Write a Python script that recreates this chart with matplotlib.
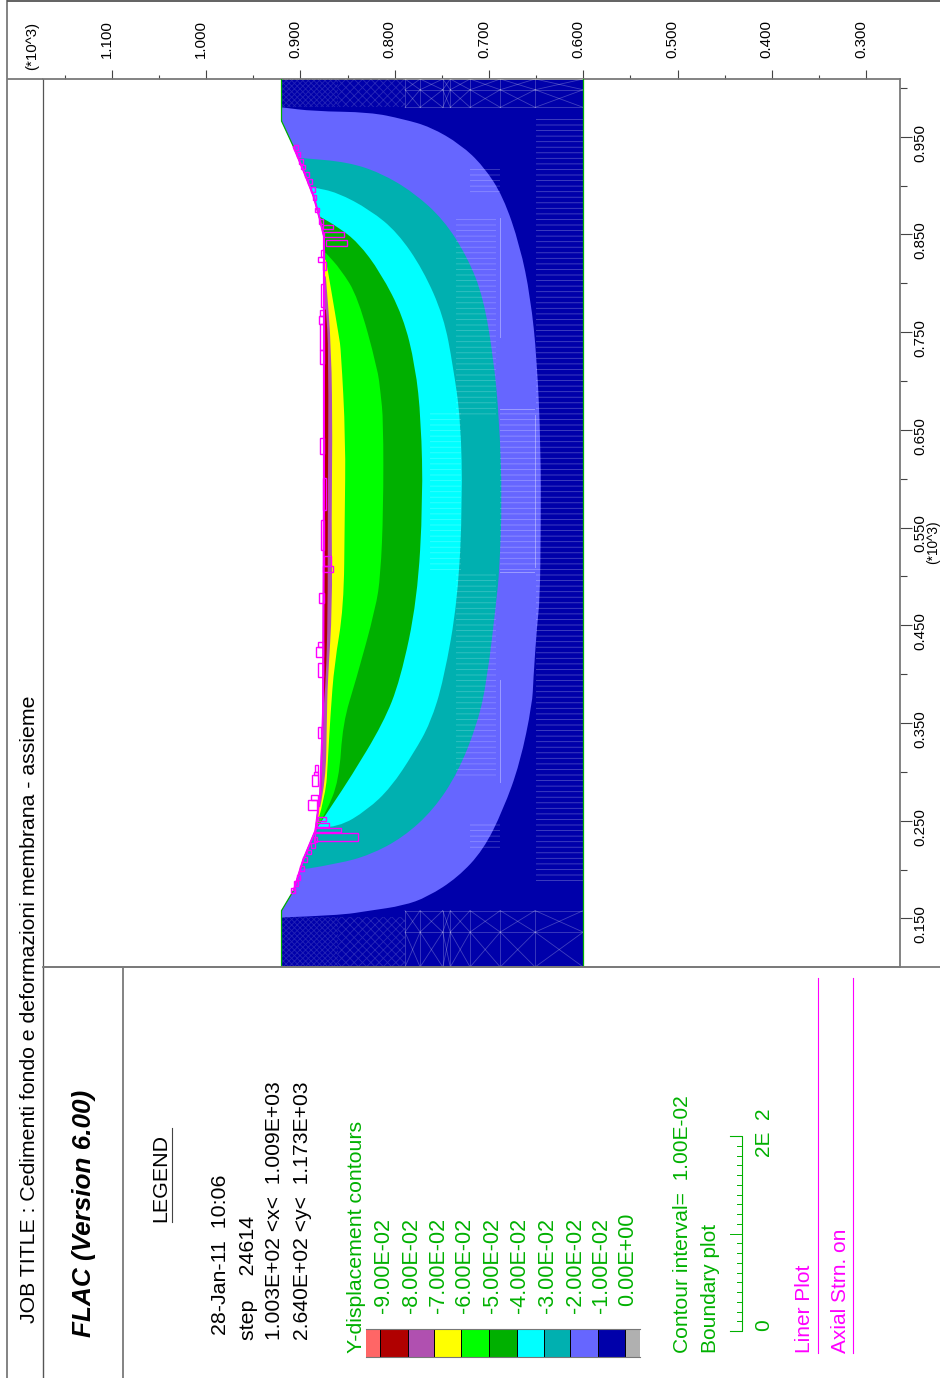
import matplotlib
matplotlib.use("Agg")
import matplotlib.pyplot as plt
from matplotlib.patches import PathPatch, Polygon, Rectangle
from matplotlib.path import Path
from matplotlib.transforms import Affine2D

plt.rcParams["font.family"] = ["Liberation Sans", "DejaVu Sans"]
plt.rcParams["hatch.linewidth"] = 0.6

W, H = 940, 1378

# model outline, x is along the page height, y along the page width (*10^3)
SURF_X = [0.1003, 0.158, 0.179, 0.210, 0.240, 0.278, 0.360, 0.578, 0.745, 0.814, 0.848, 0.868, 0.889, 0.916, 0.939, 0.966, 1.009]
SURF_Y = [0.920, 0.920, 0.907, 0.897, 0.884, 0.879, 0.876, 0.875, 0.875, 0.875, 0.875, 0.880, 0.886, 0.897, 0.907, 0.920, 0.920]
BASE_Y = 0.600

C1_X = [0.151, 0.153, 0.158, 0.163, 0.172, 0.192, 0.220, 0.261, 0.309, 0.370, 0.394, 0.450, 0.476, 0.548, 0.630, 0.722, 0.786, 0.838, 0.889, 0.920, 0.942, 0.960, 0.968, 0.975, 0.976, 0.980]
C1_Y = [0.920, 0.860, 0.826, 0.791, 0.765, 0.733, 0.706, 0.685, 0.667, 0.654, 0.653, 0.649, 0.646, 0.645, 0.645, 0.649, 0.656, 0.667, 0.685, 0.706, 0.730, 0.762, 0.791, 0.826, 0.886, 0.920]
C2_X = [0.201, 0.206, 0.215, 0.233, 0.261, 0.299, 0.350, 0.394, 0.476, 0.505, 0.578, 0.660, 0.722, 0.786, 0.827, 0.865, 0.893, 0.913, 0.924, 0.928]
C2_Y = [0.892, 0.860, 0.826, 0.791, 0.759, 0.733, 0.712, 0.702, 0.692, 0.689, 0.686, 0.689, 0.695, 0.706, 0.723, 0.748, 0.780, 0.815, 0.850, 0.897]
C3_X = [0.243, 0.243, 0.261, 0.284, 0.319, 0.350, 0.394, 0.476, 0.578, 0.660, 0.715, 0.766, 0.814, 0.852, 0.875, 0.893, 0.898]
C3_Y = [0.879, 0.860, 0.829, 0.804, 0.780, 0.762, 0.748, 0.733, 0.728, 0.730, 0.738, 0.748, 0.770, 0.797, 0.826, 0.861, 0.886]
C4_X = [0.243, 0.268, 0.294, 0.350, 0.394, 0.476, 0.578, 0.660, 0.715, 0.766, 0.811, 0.842, 0.858, 0.868]
C4_Y = [0.882, 0.865, 0.847, 0.812, 0.794, 0.776, 0.770, 0.772, 0.778, 0.791, 0.815, 0.839, 0.861, 0.879]
C5_X = [0.243, 0.258, 0.291, 0.350, 0.394, 0.468, 0.501, 0.568, 0.660, 0.688, 0.712, 0.786, 0.814, 0.831]
C5_Y = [0.882, 0.873, 0.859, 0.855, 0.841, 0.820, 0.815, 0.812, 0.812, 0.815, 0.818, 0.839, 0.857, 0.873]
C6_X = [0.247, 0.278, 0.309, 0.360, 0.410, 0.468, 0.558, 0.640, 0.732, 0.745, 0.797, 0.824]
C6_Y = [0.882, 0.873, 0.871, 0.868, 0.864, 0.854, 0.853, 0.852, 0.857, 0.859, 0.868, 0.873]
C7_X = [0.264, 0.291, 0.350, 0.394, 0.468, 0.558, 0.640, 0.732, 0.807]
C7_Y = [0.879, 0.873, 0.872, 0.871, 0.866, 0.867, 0.866, 0.867, 0.873]
C8_X = [0.281, 0.360, 0.394, 0.458, 0.558, 0.732, 0.773]
C8_Y = [0.878, 0.876, 0.873, 0.871, 0.871, 0.870, 0.873]

CONTOURS = [(C1_X, C1_Y), (C2_X, C2_Y), (C3_X, C3_Y), (C4_X, C4_Y), (C5_X, C5_Y), (C6_X, C6_Y), (C7_X, C7_Y), (C8_X, C8_Y)]
FILL_COLORS = ["#6666ff", "#00b0b0", "#00ffff", "#00b000", "#00ff00", "#ffff00", "#b050b0", "#b00000"]
BASE_COLOR = "#0000aa"

# liner bars: x low, x high, y low, y high
LINER_BARS = [
    (0.838, 0.844, 0.851, 0.873), (0.847, 0.852, 0.854, 0.875), (0.855, 0.860, 0.865, 0.876),
    (0.229, 0.237, 0.839, 0.884), (0.238, 0.243, 0.857, 0.884), (0.244, 0.248, 0.870, 0.882),
    (0.250, 0.254, 0.873, 0.881), (0.261, 0.271, 0.882, 0.892), (0.271, 0.276, 0.881, 0.889),
    (0.286, 0.297, 0.881, 0.888), (0.297, 0.300, 0.881, 0.886), (0.300, 0.307, 0.881, 0.885),
    (0.335, 0.346, 0.878, 0.881), (0.418, 0.428, 0.876, 0.883), (0.428, 0.433, 0.876, 0.881),
    (0.397, 0.411, 0.876, 0.881), (0.473, 0.483, 0.875, 0.880), (0.505, 0.511, 0.865, 0.876),
    (0.511, 0.521, 0.868, 0.875), (0.568, 0.601, 0.873, 0.876), (0.717, 0.732, 0.875, 0.879),
    (0.625, 0.642, 0.875, 0.879), (0.527, 0.558, 0.875, 0.878), (0.822, 0.827, 0.875, 0.881),
    (0.827, 0.834, 0.875, 0.878), (0.814, 0.822, 0.873, 0.876), (0.776, 0.799, 0.875, 0.878),
    (0.766, 0.773, 0.875, 0.879), (0.758, 0.766, 0.875, 0.880), (0.732, 0.758, 0.875, 0.879),
]
SLOPE_BOX_X = [0.939, 0.932, 0.925, 0.919, 0.911, 0.904, 0.896, 0.888, 0.875, 0.863, 0.179, 0.186, 0.192, 0.201, 0.210, 0.218, 0.225, 0.231]
SLOPE_BOX_Y = [0.905, 0.902, 0.899, 0.897, 0.893, 0.890, 0.887, 0.885, 0.882, 0.878, 0.908, 0.905, 0.902, 0.898, 0.895, 0.891, 0.887, 0.884]
LINER_X = [0.179, 0.210, 0.240, 0.278, 0.360, 0.578, 0.745, 0.814, 0.848, 0.868, 0.889, 0.916, 0.939]
LINER_Y = [0.907, 0.897, 0.884, 0.879, 0.876, 0.875, 0.875, 0.875, 0.875, 0.880, 0.886, 0.897, 0.907]

# grid zones at both ends of the model
MESH_COLS = [0.600, 0.651, 0.688, 0.720, 0.741, 0.749, 0.773, 0.789]
MESH_ROWS_LOW = [0.1003, 0.136, 0.158]
MESH_ROWS_HIGH = [0.980, 0.998, 1.009]
# dense grid patches: x low, x high, y low, y high, hatch, alpha
GRID_PATCHES = [
    (0.1003, 0.151, 0.860, 0.920, "xxxxxx", 0.14), (0.1003, 0.151, 0.789, 0.860, "xxxx", 0.16),
    (0.980, 1.009, 0.860, 0.920, "xxxxxx", 0.14), (0.980, 1.009, 0.789, 0.860, "xxxx", 0.16),
    (0.186, 0.970, 0.600, 0.650, "---", 0.28), (0.505, 0.671, 0.650, 0.688, "---", 0.28),
    (0.665, 0.870, 0.692, 0.735, "---", 0.22), (0.292, 0.505, 0.692, 0.735, "---", 0.22),
    (0.507, 0.671, 0.730, 0.762, "---", 0.22), (0.891, 0.921, 0.688, 0.720, "---", 0.25),
    (0.220, 0.250, 0.688, 0.720, "---", 0.25),
]
# lone pale mesh lines
MESH_LINES = [
    (0.745, 0.867, 0.688, 0.688), (0.290, 0.394, 0.688, 0.688), (0.671, 0.671, 0.688, 0.652),
    (0.505, 0.505, 0.688, 0.652), (0.510, 0.665, 0.651, 0.651),
]

X_MAJOR = [0.15, 0.25, 0.35, 0.45, 0.55, 0.65, 0.75, 0.85, 0.95]
X_MINOR = [0.20, 0.30, 0.40, 0.50, 0.60, 0.70, 0.80, 0.90, 1.00]
Y_MAJOR = [1.1, 1.0, 0.9, 0.8, 0.7, 0.6, 0.5, 0.4, 0.3]
Y_MINOR = [1.15, 1.05, 0.95, 0.85, 0.75, 0.65, 0.55, 0.45, 0.35]

LEVELS = ["-9.00E-02", "-8.00E-02", "-7.00E-02", "-6.00E-02", "-5.00E-02", "-4.00E-02", "-3.00E-02", "-2.00E-02", "-1.00E-02", "0.00E+00"]
LEVEL_LABEL_POS = [382, 409.5, 436.5, 462.5, 490.5, 518, 545.5, 573, 599, 626]
CELL_EDGES = [366, 380, 408, 434, 461, 489, 517, 544, 570, 598, 625, 640]
CELL_COLORS = ["#ff6666", "#b00000", "#b050b0", "#ffff00", "#00ff00", "#00b000", "#00ffff", "#00b0b0", "#6666ff", "#0000aa", "#b0b0b0"]

GREEN = "#00b000"
MAGENTA = "#ff00ff"
FRAME = "#7a7a7a"

fig = plt.figure(figsize=(W / 100, H / 100), dpi=100)

# page overlay in pixel coordinates for the frame and the legend panel
page = fig.add_axes([0, 0, 1, 1], zorder=3)
page.set_xlim(0, W)
page.set_ylim(H, 0)
page.axis("off")
page.patch.set_alpha(0)


def txt(px, py, s, color="black", size=15, **kw):
    page.text(px + 2, py, s, rotation=90, ha="center", va="bottom", color=color, fontsize=size, **kw)


def frame_line(xs, ys, color=FRAME, lw=1.3):
    page.plot(xs, ys, color=color, lw=lw, solid_capstyle="butt")


def smooth_region(cx, cy):
    """Closed path through the read points, running out past the surface at both ends."""
    pts = list(zip(cy, cx))
    verts = [(1.0, cx[0]), pts[0]]
    codes = [Path.MOVETO, Path.LINETO]
    for p, q in zip(pts[1:-1], pts[2:]):
        verts += [p, ((p[0] + q[0]) / 2, (p[1] + q[1]) / 2)]
        codes += [Path.CURVE3, Path.CURVE3]
    verts += [pts[-1], (1.0, cx[-1]), (1.0, cx[0])]
    codes += [Path.LINETO, Path.LINETO, Path.CLOSEPOLY]
    return Path(verts, codes)


frame_line([7, 7], [0, H])
frame_line([7, W], [1, 1], color="#555555")
frame_line([7, 43], [79, 79])
frame_line([900, W], [967, 967])
frame_line([43, 43], [967, H], color="#555555", lw=1)
frame_line([43, 900], [967, 967])
frame_line([123, 123], [967, H])

txt(28, 1323, "JOB TITLE : Cedimenti fondo e deformazioni membrana - assieme", size=15.3)
txt(82, 1337, "FLAC (Version 6.00)", size=18.8, fontweight="bold", fontstyle="italic")
txt(159, 1222, "LEGEND", size=15.4)
page.plot([172, 172], [1222, 1128], color="#444444", lw=0.8)
txt(218, 1335, "28-Jan-11  10:06", size=15.4)
txt(247, 1340, "step    24614", size=15.4)
txt(273, 1340, "1.003E+02 <x<  1.009E+03", size=15.2)
txt(300, 1340, "2.640E+02 <y<  1.173E+03", size=15.2)
txt(354, 1353, "Y-displacement contours", color=GREEN, size=15.3)

for lab, pos in zip(LEVELS, LEVEL_LABEL_POS):
    txt(pos, 1306 if lab.startswith("0") else 1313, lab, color=GREEN, size=15.5)

for i, col in enumerate(CELL_COLORS):
    page.add_patch(Rectangle((CELL_EDGES[i], 1329), CELL_EDGES[i + 1] - CELL_EDGES[i], 28, facecolor=col, edgecolor="none"))
    if i > 0:
        page.plot([CELL_EDGES[i]] * 2, [1329, 1357], color="black", lw=0.7)
page.plot([366, 640], [1329, 1329], color="#777777", lw=0.8)
page.plot([366, 640], [1357, 1357], color="#777777", lw=0.8)

txt(681, 1353, "Contour interval=  1.00E-02", color=GREEN, size=15.1)
txt(709, 1353, "Boundary plot", color=GREEN, size=15)

# length scale bar
page.plot([730, 742, 742, 730], [1331, 1331, 1136, 1136], color=GREEN, lw=0.8)
for k in range(1, 20):
    tick_y = 1331 - k * 195 / 20
    page.plot([730 if k == 10 else 737, 742], [tick_y, tick_y], color=GREEN, lw=0.7)
txt(762, 1331, "0", color=GREEN, size=15)
txt(762, 1157, "2E  2", color=GREEN, size=15)

txt(803, 1353, "Liner Plot", color=MAGENTA, size=15)
page.plot([818, 818], [978, 1353], color=MAGENTA, lw=0.8)
txt(838, 1353, "Axial Strn. on", color=MAGENTA, size=15)
page.plot([853, 853], [978, 1353], color=MAGENTA, lw=0.8)

txt(30, 70, "(*10^3)", size=10.8)
txt(931, 564, "(*10^3)", size=9.8)

# main model axes, rotated like the printed page
ax = fig.add_axes([43 / W, 1 - 967 / H, (900 - 43) / W, (967 - 79) / H], zorder=2)
ax.set_xlim(1.173, 0.264)
ax.set_ylim(0.1003, 1.009)

outline_y = SURF_Y + [BASE_Y, BASE_Y]
outline_x = SURF_X + [1.009, 0.1003]
model = Polygon(list(zip(outline_y, outline_x)), closed=True, facecolor=BASE_COLOR, edgecolor="none", zorder=1)
ax.add_patch(model)

for (cx, cy), col in zip(CONTOURS, FILL_COLORS):
    region = PathPatch(smooth_region(cx, cy), facecolor=col, edgecolor="none", zorder=2)
    ax.add_patch(region)
    region.set_clip_path(model)

for x0, x1, y0, y1, pattern, fade in GRID_PATCHES:
    patch = Rectangle((y0, x0), y1 - y0, x1 - x0, fill=False, hatch=pattern, edgecolor=(1, 1, 1, fade), lw=0, zorder=3)
    ax.add_patch(patch)
    patch.set_clip_path(model)

for rows in (MESH_ROWS_LOW, MESH_ROWS_HIGH):
    for row in rows:
        ax.plot([MESH_COLS[0], MESH_COLS[-1]], [row, row], color="white", alpha=0.25, lw=0.6, zorder=3)
    for a, b in zip(rows[:-1], rows[1:]):
        for c, d in zip(MESH_COLS[:-1], MESH_COLS[1:]):
            ax.plot([c, d], [a, b], color="white", alpha=0.25, lw=0.6, zorder=3)
            ax.plot([c, d], [b, a], color="white", alpha=0.25, lw=0.6, zorder=3)
    for c in MESH_COLS[1:]:
        ax.plot([c, c], [rows[0], rows[-1]], color="white", alpha=0.25, lw=0.6, zorder=3)

for x0, x1, y0, y1 in MESH_LINES:
    ax.plot([y0, y1], [x0, x1], color="white", alpha=0.35, lw=0.7, zorder=3)

ax.plot(SURF_Y, SURF_X, color=GREEN, lw=0.9, zorder=4)
ax.plot([BASE_Y, BASE_Y], [0.1003, 1.009], color=GREEN, lw=0.9, zorder=4)

ax.plot(LINER_Y, LINER_X, color=MAGENTA, lw=1.5, zorder=5)
for x0, x1, y0, y1 in LINER_BARS:
    ax.add_patch(Rectangle((y0, x0), y1 - y0, x1 - x0, fill=False, edgecolor=MAGENTA, lw=1.0, zorder=5))
for bx, by in zip(SLOPE_BOX_X, SLOPE_BOX_Y):
    ax.add_patch(Rectangle((by - 0.002, bx - 0.0025), 0.004, 0.005, fill=False, edgecolor=MAGENTA, lw=1.0, zorder=5))

ax.xaxis.tick_top()
ax.yaxis.tick_right()
ax.set_xticks(Y_MAJOR)
ax.set_xticklabels([f"{v:.3f}" for v in Y_MAJOR], rotation=90, ha="center", va="bottom", fontsize=10.8)
ax.set_xticks(Y_MINOR, minor=True)
ax.set_yticks(X_MAJOR)
ax.set_yticklabels([f"{v:.3f}" for v in X_MAJOR], rotation=90, ha="left", va="center", fontsize=10.8)
ax.set_yticks(X_MINOR, minor=True)
ax.tick_params(axis="x", which="major", length=6.5, width=0.8, color="#444444", pad=8.5)
ax.tick_params(axis="x", which="minor", length=3, width=0.8, color="#444444")
ax.tick_params(axis="y", which="major", length=8.6, width=0.8, color="#444444", pad=0.8)
ax.tick_params(axis="y", which="minor", length=5, width=0.8, color="#444444")
for lbl in ax.get_xticklabels():
    lbl.set_transform(lbl.get_transform() + Affine2D().translate(-5, 0))
for lbl in ax.get_yticklabels():
    lbl.set_transform(lbl.get_transform() + Affine2D().translate(0, -6))

for side in ("top", "bottom", "right"):
    ax.spines[side].set_color(FRAME)
    ax.spines[side].set_linewidth(1.3)
ax.spines["left"].set_color("#555555")
ax.spines["left"].set_linewidth(0.9)

fig.savefig("out.png", dpi=100)
